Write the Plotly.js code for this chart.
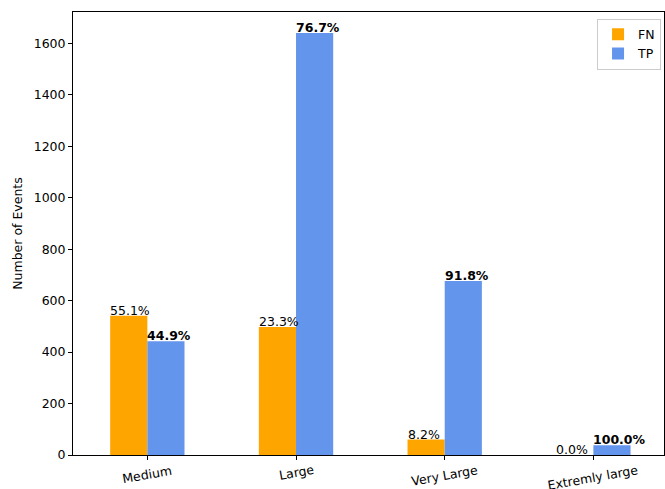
<!DOCTYPE html>
<html><head><meta charset="utf-8">
<script src="https://cdn.plot.ly/plotly-3.0.1.min.js"></script>
<style>html,body{margin:0;padding:0;background:#fff}#c{width:665px;height:489px}</style>
</head><body><div id="c"></div>
<script>
const categories = ["Medium", "Large", "Very Large", "Extremly large"];
const fnValues = [541, 498, 60, 0];
const tpValues = [442, 1640, 676, 38];
const fnLabels = ["55.1%", "23.3%", "8.2%", "0.0%"];
const tpLabels = ["44.9%", "76.7%", "91.8%", "100.0%"];
const yTicks = [0, 200, 400, 600, 800, 1000, 1200, 1400, 1600];

const idx = categories.map((_, i) => i);
const W = 0.25;
const font = {family: "DejaVu Sans", size: 12.5, color: "#000"};

const traces = [
  {type: "bar", name: "FN", x: idx.map(i => i - W/2), y: fnValues, width: W,
   marker: {color: "#FFA500", line: {width: 0}}},
  {type: "bar", name: "TP", x: idx.map(i => i + W/2), y: tpValues, width: W,
   marker: {color: "#6495ED", line: {width: 0}}}
];

const annotations = [];
idx.forEach(i => {
  annotations.push({x: i - W, y: fnValues[i], xref: "x", yref: "y", text: fnLabels[i],
    showarrow: false, xanchor: "left", yanchor: "bottom", yshift: -4, xshift: -2, font: font});
  annotations.push({x: i, y: tpValues[i], xref: "x", yref: "y", text: "<b>" + tpLabels[i] + "</b>",
    showarrow: false, xanchor: "left", yanchor: "bottom", yshift: -4, xshift: -2, font: font});
  annotations.push({x: i, y: 0, xref: "x", yref: "paper", text: categories[i], textangle: -10,
    showarrow: false, xanchor: "center", yanchor: "top", yshift: -5, font: font});
});

const layout = {
  width: 665, height: 489,
  margin: {l: 73, r: 1, t: 12, b: 34, pad: 0},
  paper_bgcolor: "#fff", plot_bgcolor: "#fff",
  font: font,
  barmode: "overlay",
  showlegend: true,
  legend: {x: 0.995, y: 0.985, xanchor: "right", yanchor: "top", bgcolor: "rgba(255,255,255,0.8)",
    bordercolor: "#ccc", borderwidth: 1, font: font, itemwidth: 30, tracegroupgap: 0},
  xaxis: {range: [-0.5, 3.475], tickvals: idx, showticklabels: false,
    showgrid: false, zeroline: false, showline: true, mirror: true, linecolor: "#000", linewidth: 1,
    ticks: "outside", ticklen: 4, tickcolor: "#000", automargin: false, fixedrange: true},
  yaxis: {range: [0, 1722], tickvals: yTicks, showgrid: false, zeroline: false,
    showline: true, mirror: true, linecolor: "#000", linewidth: 1,
    ticks: "outside", ticklen: 4, tickcolor: "#000", automargin: false,
    title: {text: "Number of Events", font: font, standoff: 8}},
  annotations: annotations
};

Plotly.newPlot("c", traces, layout, {displayModeBar: false, staticPlot: true});
</script></body></html>
